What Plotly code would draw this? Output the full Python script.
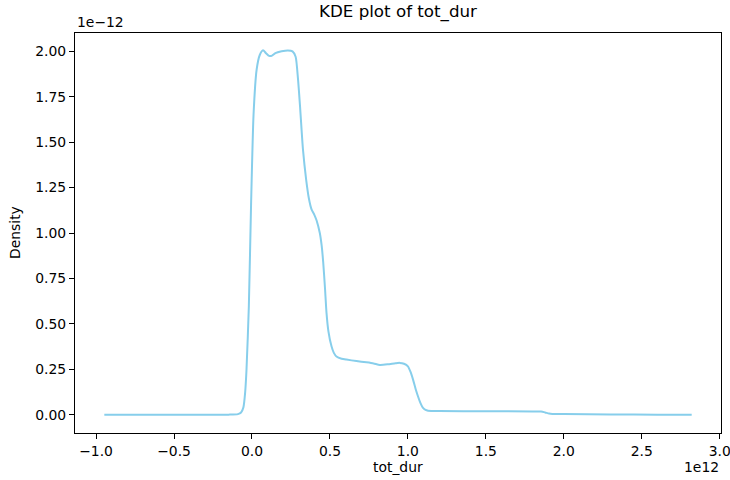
import plotly.graph_objects as go

# x in units of 1e12, density in units of 1e-12
x_vals = [-0.947, -0.5, -0.15, -0.09, -0.07, -0.055, -0.044, -0.035, -0.02, -0.006,
          0.01, 0.03, 0.05, 0.071, 0.09, 0.11, 0.126, 0.15, 0.19, 0.23, 0.26, 0.28,
          0.295, 0.308, 0.327, 0.348, 0.365, 0.382, 0.40, 0.414, 0.435, 0.447, 0.457,
          0.468, 0.478, 0.49, 0.51, 0.525, 0.542, 0.575, 0.606, 0.67, 0.734, 0.78,
          0.82, 0.87, 0.92, 0.948, 0.975, 1.0, 1.017, 1.033, 1.05, 1.065, 1.08, 1.097,
          1.113, 1.129, 1.2, 1.5, 1.8, 1.854, 1.88, 1.905, 1.927, 2.0, 2.3, 2.6, 2.82]
y_vals = [0.0, 0.0, 0.0, 0.003, 0.012, 0.04, 0.12, 0.25, 0.6, 1.15,
          1.65, 1.9, 1.98, 2.006, 1.99, 1.975, 1.975, 1.99, 2.0, 2.005, 2.0, 1.97,
          1.85, 1.70, 1.46, 1.29, 1.19, 1.13, 1.10, 1.07, 1.0, 0.93, 0.837,
          0.70, 0.56, 0.46, 0.376, 0.34, 0.32, 0.308, 0.303, 0.295, 0.288, 0.282,
          0.274, 0.277, 0.283, 0.285, 0.28, 0.266, 0.235, 0.193, 0.14, 0.10, 0.065, 0.037,
          0.026, 0.022, 0.02, 0.019, 0.018, 0.017, 0.012, 0.006, 0.004, 0.003, 0.001, 0.0, 0.0]

x_ticks = [-1.0, -0.5, 0.0, 0.5, 1.0, 1.5, 2.0, 2.5, 3.0]
x_ticktext = ["\u22121.0", "\u22120.5", "0.0", "0.5", "1.0", "1.5", "2.0", "2.5", "3.0"]
y_ticks = [0.0, 0.25, 0.5, 0.75, 1.0, 1.25, 1.5, 1.75, 2.0]
y_ticktext = ["0.00", "0.25", "0.50", "0.75", "1.00", "1.25", "1.50", "1.75", "2.00"]

FONT = "DejaVu Sans"
FS = 13.9

fig = go.Figure()
fig.add_trace(go.Scatter(x=x_vals, y=y_vals, mode="lines",
                         line=dict(color="#87CEEB", width=2, shape="spline", smoothing=0.6),
                         showlegend=False, hoverinfo="skip"))

axis_common = dict(showgrid=False, zeroline=False, showline=True, mirror=True,
                   linecolor="black", linewidth=1, ticks="outside", ticklen=5,
                   tickwidth=1, tickcolor="black", ticklabeloverflow="allow",
                   automargin=False,
                   tickfont=dict(family=FONT, size=FS, color="black"))

fig.update_layout(
    width=730, height=480,
    margin=dict(l=75, r=9, t=33, b=47),
    paper_bgcolor="white", plot_bgcolor="white",
    font=dict(family=FONT, color="black"),
    xaxis=dict(range=[-1.135, 3.008], tickvals=x_ticks, ticktext=x_ticktext, **axis_common),
    yaxis=dict(range=[-0.101, 2.101], tickvals=y_ticks, ticktext=y_ticktext, **axis_common),
    annotations=[
        dict(text="KDE plot of tot_dur", xref="paper", yref="paper", x=0.5, y=1,
             yshift=9, xanchor="center", yanchor="bottom", showarrow=False,
             font=dict(family=FONT, size=16.7, color="black")),
        dict(text="1e\u221212", xref="paper", yref="paper", x=0, y=1, yshift=1,
             xanchor="left", yanchor="bottom", showarrow=False,
             font=dict(family=FONT, size=FS, color="black")),
        dict(text="1e12", xref="paper", yref="paper", x=1, y=0, yshift=-24,
             xanchor="right", yanchor="top", showarrow=False,
             font=dict(family=FONT, size=FS, color="black")),
        dict(text="tot_dur", xref="paper", yref="paper", x=0.5, y=0, yshift=-24,
             xanchor="center", yanchor="top", showarrow=False,
             font=dict(family=FONT, size=FS, color="black")),
        dict(text="Density", xref="paper", yref="paper", x=0, y=0.5, xshift=-50,
             xanchor="right", yanchor="middle", textangle=-90, showarrow=False,
             font=dict(family=FONT, size=FS, color="black")),
    ],
)

fig.write_html("out.html")
